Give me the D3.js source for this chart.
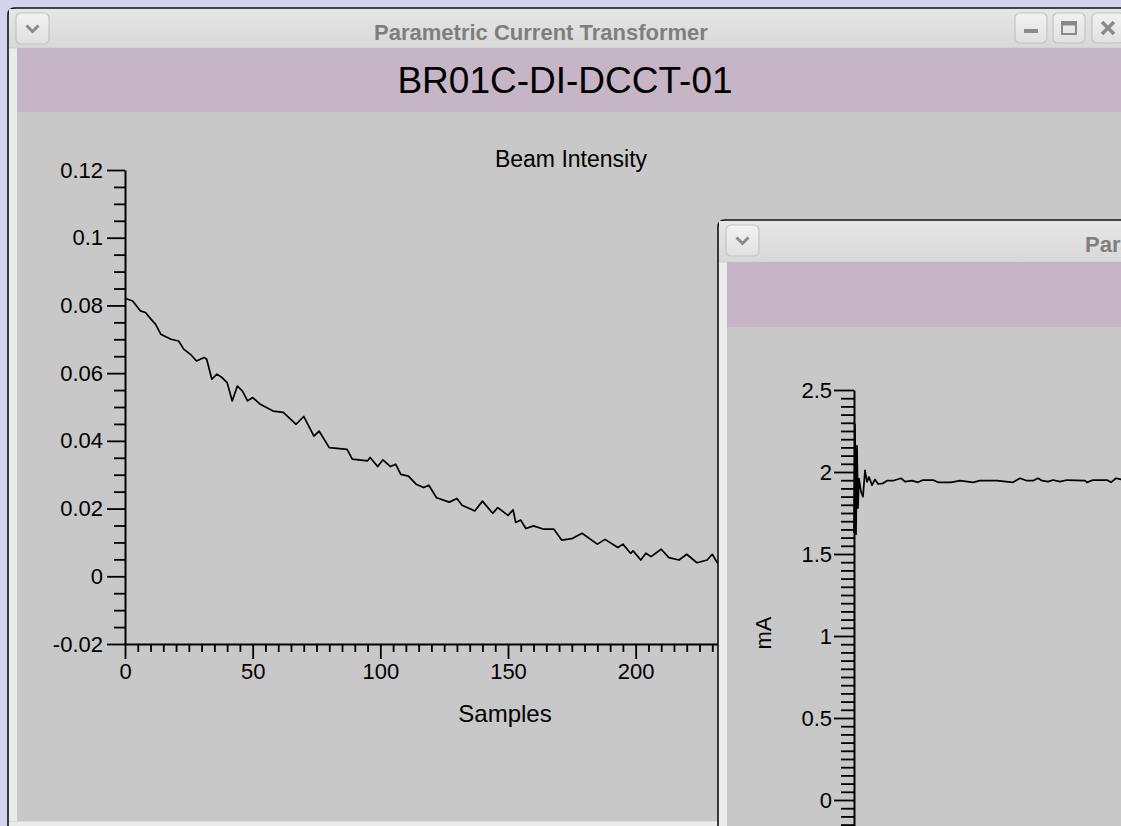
<!DOCTYPE html>
<html><head><meta charset="utf-8">
<script src="https://cdn.jsdelivr.net/npm/d3@7"></script>
<style>html,body{margin:0;padding:0;overflow:hidden;background:#d4d4ee}</style>
</head><body>
<svg id="c" width="1121" height="826"></svg>
<script>
// ---------- DATA ----------
const windowTitle = "Parametric Current Transformer";
const deviceName = "BR01C-DI-DCCT-01";
const plot1Title = "Beam Intensity";
const plot1XLabel = "Samples";
const plot2YLabel = "mA";

const samples1 = [0,3,6,8,10,12,14,18,21,23,26,28,31,32,34,36,38,40,42,44,46,48,50,53,58,62,67,70,74,76,80,87,89,95,96,99,101,104,106,108,111,114,117,119,122,127,130,132,137,140,144,146,150,152,153,155,157,160,164,168,171,175,179,185,188,193,195,198,199,202,204,206,210,213,217,220,224,228,230,232,236,240,245,250];
const beam1 = [0.0821,0.0813,0.0784,0.0779,0.0761,0.0744,0.0715,0.0700,0.0695,0.0671,0.0653,0.0636,0.0646,0.0641,0.0582,0.0597,0.0587,0.0572,0.0518,0.0562,0.0547,0.0518,0.0528,0.0508,0.0488,0.0484,0.0449,0.0472,0.0414,0.0429,0.0380,0.0375,0.0346,0.0341,0.0351,0.0324,0.0344,0.0324,0.0331,0.0301,0.0296,0.0272,0.0262,0.0269,0.0232,0.0219,0.0230,0.0210,0.0193,0.0222,0.0186,0.0203,0.0180,0.0196,0.0159,0.0166,0.0141,0.0149,0.0139,0.0139,0.0107,0.0111,0.0127,0.0095,0.0109,0.0085,0.0095,0.0068,0.0075,0.0048,0.0068,0.0058,0.0080,0.0055,0.0048,0.0065,0.0040,0.0048,0.0065,0.0040,0.0052,0.0038,0.0046,0.0035];
const xTicks1 = [0,50,100,150,200,250,300];
const xTickLabels1 = ["0","50","100","150","200","250","300"];
const yTicks1 = [-0.02,0,0.02,0.04,0.06,0.08,0.1,0.12];
const yTickLabels1 = ["-0.02","0","0.02","0.04","0.06","0.08","0.1","0.12"];

const samples2 = [0,1,2,3,4,5,7,9,11,13,15,18,21,24,29,33,39,47,51,58,64,69,79,84,97,106,119,126,143,159,166,173,179,184,188,194,199,206,213,231,233,239,253,257,262,267,275];
const current2 = [1.63,2.29,1.62,2.16,1.78,1.96,1.88,1.85,2.01,1.94,1.97,1.92,1.955,1.927,1.931,1.947,1.947,1.962,1.941,1.947,1.937,1.951,1.951,1.937,1.937,1.947,1.937,1.947,1.947,1.937,1.962,1.947,1.947,1.962,1.947,1.941,1.951,1.941,1.951,1.947,1.937,1.951,1.951,1.937,1.962,1.955,1.947];
const yTicks2 = [0,0.5,1,1.5,2,2.5];
const yTickLabels2 = ["0","0.5","1","1.5","2","2.5"];

// ---------- DRAW ----------
const svg = d3.select("#c");
const defs = svg.append("defs");
const grad = defs.append("linearGradient").attr("id","tb").attr("x1",0).attr("y1",0).attr("x2",0).attr("y2",1);
grad.append("stop").attr("offset","0%").attr("stop-color","#e6e6e6");
grad.append("stop").attr("offset","100%").attr("stop-color","#d8d8d8");
const bgrad = defs.append("linearGradient").attr("id","btn").attr("x1",0).attr("y1",0).attr("x2",0).attr("y2",1);
bgrad.append("stop").attr("offset","0%").attr("stop-color","#f2f2f2");
bgrad.append("stop").attr("offset","100%").attr("stop-color","#e0e0e0");

svg.append("rect").attr("width",1121).attr("height",826).attr("fill","#d4d4ee");

const FONT = "'Liberation Sans', Arial, Helvetica, sans-serif";

function drawWindow(x0, y0, tbH, purpleH, titleX, panelBottom) {
  const g = svg.append("g");
  const r = 7, R = 1130, B = 840;
  g.append("path")
    .attr("d", `M${x0},${B} L${x0},${y0+r} Q${x0},${y0} ${x0+r},${y0} L${R},${y0} L${R},${B} Z`)
    .attr("fill","#ebebeb").attr("stroke","#111").attr("stroke-width",1.6);
  g.append("rect").attr("x",x0+1).attr("y",y0+1).attr("width",R-x0).attr("height",tbH-1).attr("fill","url(#tb)");
  g.append("line").attr("x1",x0+1).attr("x2",R).attr("y1",y0+tbH).attr("y2",y0+tbH).attr("stroke","#cfcfcf");
  const cx = x0 + 9;
  g.append("rect").attr("x",cx).attr("y",y0+tbH).attr("width",R-cx).attr("height",purpleH).attr("fill","#c6b5c6");
  g.append("rect").attr("x",cx).attr("y",y0+tbH+purpleH).attr("width",R-cx)
    .attr("height",panelBottom-(y0+tbH+purpleH)).attr("fill","#c8c8c8");
  // collapse button
  const bx = x0 + 8, by = y0 + 5, bw = 33, bh = 31;
  g.append("rect").attr("x",bx).attr("y",by).attr("width",bw).attr("height",bh).attr("rx",5)
    .attr("fill","url(#btn)").attr("stroke","#c4c4c4").attr("stroke-width",1.2);
  g.append("path").attr("d",`M${bx+bw/2-6},${by+bh/2-3} L${bx+bw/2},${by+bh/2+3} L${bx+bw/2+6},${by+bh/2-3}`)
    .attr("fill","none").attr("stroke","#8a8a8a").attr("stroke-width",3);
  g.append("text").attr("x",titleX).attr("y",y0+32).attr("text-anchor","middle")
    .attr("font-family",FONT).attr("font-weight","bold").attr("font-size",22).attr("fill","#7e7e7e")
    .text(windowTitle);
  return g;
}

// Window 1
const w1 = drawWindow(8, 8, 40, 64, 541, 821);
// bottom-left corner shadow of window 1 frame
w1.append("line").attr("x1",9).attr("x2",1130).attr("y1",821.5).attr("y2",821.5).attr("stroke","#dcdcdc");
// right buttons
[[1015,"min"],[1053,"max"],[1092,"close"]].forEach(([bx,kind])=>{
  const by=13,bw=32,bh=30;
  w1.append("rect").attr("x",bx).attr("y",by).attr("width",bw).attr("height",bh).attr("rx",5)
    .attr("fill","url(#btn)").attr("stroke","#c4c4c4").attr("stroke-width",1.2);
  const cx=bx+bw/2, cy=by+bh/2;
  if(kind==="min") w1.append("rect").attr("x",cx-7).attr("y",cy+1).attr("width",14).attr("height",4).attr("fill","#8a8a8a");
  if(kind==="max"){ w1.append("rect").attr("x",cx-7).attr("y",cy-6).attr("width",14).attr("height",12).attr("fill","none").attr("stroke","#8a8a8a").attr("stroke-width",2);
    w1.append("rect").attr("x",cx-7).attr("y",cy-6).attr("width",14).attr("height",3.5).attr("fill","#8a8a8a"); }
  if(kind==="close") w1.append("path").attr("d",`M${cx-6},${cy-6}L${cx+6},${cy+6}M${cx+6},${cy-6}L${cx-6},${cy+6}`).attr("stroke","#8a8a8a").attr("stroke-width",3.5);
});
w1.append("text").attr("x",565).attr("y",93).attr("text-anchor","middle").attr("font-family",FONT)
  .attr("font-size",37).attr("fill","#000").text(deviceName);

// Plot 1
const x1 = d3.scaleLinear().domain([0,300]).range([125,891]);
const y1 = d3.scaleLinear().domain([-0.02,0.12]).range([644,170]);
const p1 = w1.append("g");
p1.append("text").attr("x",571).attr("y",167).attr("text-anchor","middle").attr("font-family",FONT)
  .attr("font-size",23).attr("fill","#000").text(plot1Title);

const minorY1 = d3.range(-4,25).map(i=>i*0.005).filter((d,i)=>Math.round(d*1000)%20!==0);
const minorX1 = d3.range(0,61).map(i=>i*5).filter(d=>d%50!==0);

function styleAxis(g, w){
  g.selectAll("path.domain").attr("stroke","#000").attr("stroke-width",w);
  g.selectAll(".tick line").attr("stroke","#000").attr("stroke-width",1.8);
  g.selectAll(".tick text").attr("font-family",FONT).attr("font-size",22).attr("fill","#000");
}
const yMin1 = p1.append("g").attr("transform","translate(125,0)")
  .call(d3.axisLeft(y1).tickValues(minorY1).tickSize(11).tickFormat(""));
yMin1.select("path.domain").remove();
styleAxis(yMin1,2);
const yAx1 = p1.append("g").attr("transform","translate(125,0)")
  .call(d3.axisLeft(y1).tickValues(yTicks1).tickSize(18).tickSizeOuter(0).tickPadding(4)
    .tickFormat((d,i)=>yTickLabels1[i]));
styleAxis(yAx1,2);
const xMin1 = p1.append("g").attr("transform","translate(0,644)")
  .call(d3.axisBottom(x1).tickValues(minorX1).tickSize(8).tickFormat(""));
xMin1.select("path.domain").remove();
styleAxis(xMin1,2);
const xAx1 = p1.append("g").attr("transform","translate(0,644)")
  .call(d3.axisBottom(x1).tickValues(xTicks1).tickSize(15).tickSizeOuter(0).tickPadding(4)
    .tickFormat((d,i)=>xTickLabels1[i]));
styleAxis(xAx1,2);
p1.append("text").attr("x",505).attr("y",722).attr("text-anchor","middle").attr("font-family",FONT)
  .attr("font-size",24).attr("fill","#000").text(plot1XLabel);

p1.append("path").datum(samples1.map((s,i)=>[s,beam1[i]]))
  .attr("d", d3.line().x(d=>x1(d[0])).y(d=>y1(d[1])))
  .attr("fill","none").attr("stroke","#000").attr("stroke-width",1.7).attr("stroke-linejoin","round");

// Window 2
const w2 = drawWindow(718, 220, 42, 65, 1252, 840);
const x2 = d3.scaleLinear().domain([0,300]).range([854,1154]);
const y2 = d3.scaleLinear().domain([-0.2,2.5]).range([800+0.2*164,390]);
const p2 = w2.append("g");
const minorY2 = d3.range(-4,50).map(i=>i*0.05).filter(d=>Math.round(d*100)%50!==0);
const yMin2 = p2.append("g").attr("transform","translate(854,0)")
  .call(d3.axisLeft(y2).tickValues(minorY2).tickSize(13).tickFormat(""));
yMin2.select("path.domain").remove();
styleAxis(yMin2,2);
const yAx2 = p2.append("g").attr("transform","translate(854,0)")
  .call(d3.axisLeft(y2).tickValues(yTicks2).tickSize(20).tickSizeOuter(0).tickPadding(2)
    .tickFormat((d,i)=>yTickLabels2[i]));
styleAxis(yAx2,2);
p2.append("text").attr("transform","translate(771,633) rotate(-90)").attr("text-anchor","middle")
  .attr("font-family",FONT).attr("font-size",22).attr("fill","#000").text(plot2YLabel);
p2.append("path").datum(samples2.map((s,i)=>[s,current2[i]]))
  .attr("d", d3.line().x(d=>x2(d[0])).y(d=>y2(d[1])))
  .attr("fill","none").attr("stroke","#000").attr("stroke-width",1.7).attr("stroke-linejoin","round");
</script>
</body></html>
